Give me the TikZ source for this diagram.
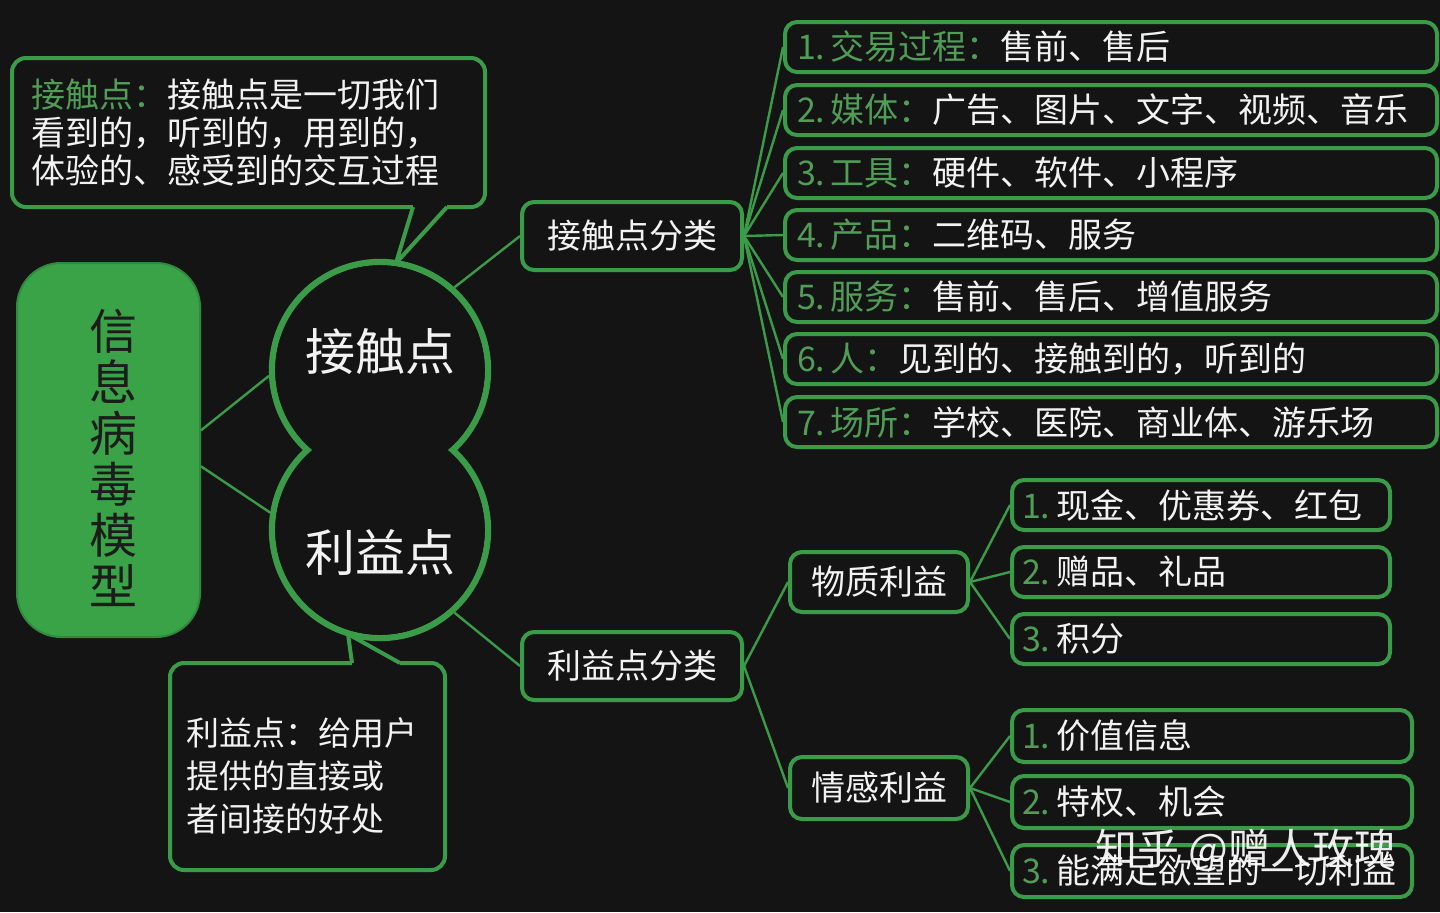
\documentclass[tikz,border=0pt]{standalone}
\usepackage{fontspec}
\setmainfont{Noto Sans CJK SC}
\definecolor{bg}{HTML}{141414}
\definecolor{gline}{HTML}{3A9C48}
\definecolor{gfill}{HTML}{3AA247}
\definecolor{gdark}{HTML}{2E8A3C}
\definecolor{gtext}{HTML}{4F9D57}
\definecolor{fg}{HTML}{F2F2F2}
\definecolor{dk}{HTML}{1C1C1C}
\newcommand\fsA{\fontsize{17pt}{19pt}\selectfont}
\newcommand\gl[1]{\textcolor{gtext}{#1}}
\begin{document}
\begin{tikzpicture}[x=0.5pt,y=-0.5pt,
  box/.style={draw=gline, line width=2pt, rounded corners=6pt, fill=bg, text=fg, font=\fsA},
  item/.style={box, minimum height=25pt, inner ysep=0pt, inner xsep=6pt, text width=314pt, align=left},
  subm/.style={box, minimum height=25pt, inner ysep=0pt, inner xsep=5pt, text width=179pt, align=left},
  sube/.style={box, minimum height=26pt, inner ysep=0pt, inner xsep=5pt, text width=190pt, align=left},
  mid/.style={box, inner sep=0pt, align=center},
  conn/.style={draw=gline, line width=1.2pt},
  ring/.style={circle, draw=gline, line width=3.2pt, minimum size=108pt, inner sep=0pt},
  bubble/.style={draw=gline, line width=2pt, rounded corners=7pt, fill=bg, inner sep=0pt}
]
\fill[bg] (0,0) rectangle (1440,912);
\useasboundingbox (0,0) rectangle (1440,912);

% model
\node[fill=gfill, draw=gdark, line width=1pt, rounded corners=22pt, minimum width=91.5pt, minimum height=187pt, inner sep=0pt] (model) at (108.5,450) {};
\node[text=dk, align=center, font=\fontsize{24pt}{25.5pt}\selectfont] (mt) at (113,458) {信\\息\\病\\毒\\模\\型};

% figure eight
\node[ring] (c1) at (380,370) {};
\node[ring] (c2) at (380,530) {};
\fill[bg] (c1.center) circle (52.4pt);
\fill[bg] (c2.center) circle (52.4pt);
\node[text=fg, font=\fontsize{25pt}{25pt}\selectfont] (t1) at (380,352) {接触点};
\node[text=fg, font=\fontsize{25pt}{25pt}\selectfont] (t2) at (380,553) {利益点};

\draw[conn] (model.12) -- (c1.183);
\draw[conn] (model.-10) -- (c2.171);

% top bubble
\node[bubble, minimum width=236.5pt, minimum height=74.5pt, text width=216.5pt, inner xsep=10pt, align=left, text=fg, font=\fontsize{17pt}{19pt}\selectfont] (tb) at (248.5,132.5)
 {\gl{接触点：}接触点是一切我们\\看到的，听到的，用到的，\\体验的、感受到的交互过程};
\coordinate (ta) at (413,207);
\coordinate (tc) at (447,207);
\coordinate (tt) at (396,263);
\fill[bg] (414,200) -- (446,200) -- (tc) -- (tt) -- (ta) -- cycle;
\draw[draw=gline, line width=2pt, line join=round] (ta) -- (tt) -- (tc);

% bottom bubble
\node[bubble, minimum width=137.5pt, minimum height=103.5pt] (bb) at (307.5,766.5) {};
\coordinate (ba) at (352,663);
\coordinate (bc) at (400,663);
\coordinate (bt) at (348,634);
\fill[bg] (353,670) -- (399,670) -- (bc) -- (bt) -- (ba) -- cycle;
\draw[draw=gline, line width=2pt, line join=round] (ba) -- (bt) -- (bc);
\node[anchor=west, align=left, text=fg, inner sep=0pt, font=\fontsize{16.5pt}{21.5pt}\selectfont] (btx) at (186,776)
 {利益点：给用户\\提供的直接或\\者间接的好处};

% categories
\node[mid, minimum width=110pt, minimum height=34pt] (k1) at (632,236) {接触点分类};
\node[mid, minimum width=110pt, minimum height=34pt] (k2) at (632,666) {利益点分类};
\draw[conn] (c1.48) -- (k1.west);
\draw[conn] (c2.-48) -- (k2.west);

% touch point list
\node[item] (r1) at (1111,47) {\gl{1.\,交易过程：}售前、售后};
\node[item] (r2) at (1111,110) {\gl{2.\,媒体：}广告、图片、文字、视频、音乐};
\node[item] (r3) at (1111,173) {\gl{3.\,工具：}硬件、软件、小程序};
\node[item] (r4) at (1111,235) {\gl{4.\,产品：}二维码、服务};
\node[item] (r5) at (1111,297) {\gl{5.\,服务：}售前、售后、增值服务};
\node[item] (r6) at (1111,359) {\gl{6.\,人：}见到的、接触到的，听到的};
\node[item] (r7) at (1111,422) {\gl{7.\,场所：}学校、医院、商业体、游乐场};
\foreach \r in {r1,r2,r3,r4,r5,r6,r7} \draw[conn] (k1.east) -- (\r.west);

% benefits
\node[mid, minimum width=89pt, minimum height=30pt] (p1) at (879,582) {物质利益};
\node[mid, minimum width=89pt, minimum height=31pt] (p2) at (879,788) {情感利益};
\draw[conn] (k2.east) -- (p1.west);
\draw[conn] (k2.east) -- (p2.west);

\node[subm] (m1) at (1201,505) {\gl{1.\,}现金、优惠券、红包};
\node[subm] (m2) at (1201,572) {\gl{2.\,}赠品、礼品};
\node[subm] (m3) at (1201,639) {\gl{3.\,}积分};
\foreach \r in {m1,m2,m3} \draw[conn] (p1.east) -- (\r.west);

\node[sube] (e1) at (1212,736) {\gl{1.\,}价值信息};
\node[sube] (e2) at (1212,802) {\gl{2.\,}特权、机会};
\node[sube] (e3) at (1212,871) {\gl{3.\,}能满足欲望的一切利益};
\foreach \r in {e1,e2,e3} \draw[conn] (p2.east) -- (\r.west);

% watermark
\node[text=white, opacity=0.92, font=\fontsize{21pt}{21pt}\selectfont] (wm) at (1246,850) {知乎 @赠人玫瑰};
\end{tikzpicture}
\end{document}
